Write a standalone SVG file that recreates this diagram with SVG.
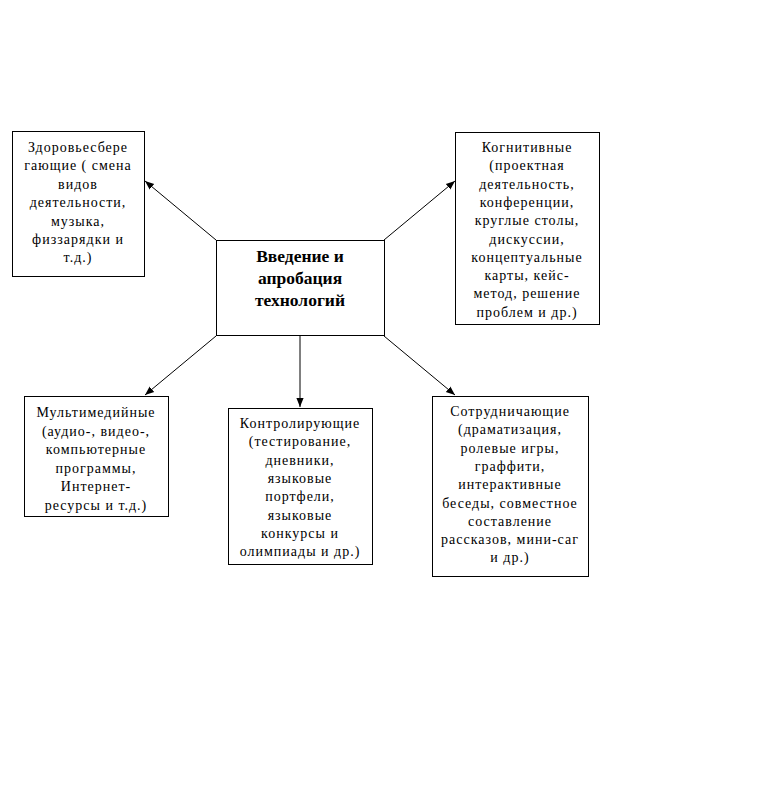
<svg xmlns="http://www.w3.org/2000/svg" width="769" height="805" viewBox="0 0 769 805">
<style>
.box{fill:#fff;stroke:#000;stroke-width:1}
.t{font-family:"Liberation Serif","Times New Roman",serif;font-size:14px;letter-spacing:1px;text-anchor:middle;fill:#000}
.b{font-family:"Liberation Serif","Times New Roman",serif;font-size:17.5px;font-weight:bold;text-anchor:middle;fill:#000}
.c{stroke:#000;stroke-width:1;fill:none;marker-end:url(#ah)}
</style>
<defs>
<marker id="ah" viewBox="0 0 10 10" refX="10" refY="5" markerWidth="9" markerHeight="9" markerUnits="userSpaceOnUse" orient="auto">
<path d="M0,1 L10,5 L0,9 z" fill="#000"/>
</marker>
</defs>
<rect width="769" height="805" fill="#fff"/>
<g id="connectors">
<line class="c" x1="216" y1="240" x2="145" y2="181"/>
<line class="c" x1="384" y1="240" x2="455" y2="181"/>
<line class="c" x1="216" y1="336" x2="145" y2="395"/>
<line class="c" x1="300" y1="336" x2="300" y2="407"/>
<line class="c" x1="384" y1="336" x2="455" y2="395"/>
</g>
<g id="center">
<rect class="box" x="216.5" y="240.5" width="168" height="95"/>
<text class="b" x="300" y="262">Введение и</text>
<text class="b" x="300" y="284">апробация</text>
<text class="b" x="300" y="306">технологий</text>
</g>
<g id="health">
<rect class="box" x="12.5" y="131.5" width="132" height="145"/>
<text class="t" x="78" y="152">Здоровьесбере</text>
<text class="t" x="78" y="170.4">гающие ( смена</text>
<text class="t" x="78" y="188.8">видов</text>
<text class="t" x="78" y="207.2">деятельности,</text>
<text class="t" x="78" y="225.6">музыка,</text>
<text class="t" x="78" y="244">физзарядки и</text>
<text class="t" x="78" y="262.4">т.д.)</text>
</g>
<g id="cognitive">
<rect class="box" x="455.5" y="132.5" width="144" height="192"/>
<text class="t" x="527" y="152">Когнитивные</text>
<text class="t" x="527" y="170.3">(проектная</text>
<text class="t" x="527" y="188.6">деятельность,</text>
<text class="t" x="527" y="206.9">конференции,</text>
<text class="t" x="527" y="225.2">круглые столы,</text>
<text class="t" x="527" y="243.5">дискуссии,</text>
<text class="t" x="527" y="261.8">концептуальные</text>
<text class="t" x="527" y="280.1">карты, кейс-</text>
<text class="t" x="527" y="298.4">метод, решение</text>
<text class="t" x="527" y="316.7">проблем и др.)</text>
</g>
<g id="multimedia">
<rect class="box" x="24.5" y="396.5" width="144" height="120"/>
<text class="t" x="96" y="417">Мультимедийные</text>
<text class="t" x="96" y="435.5">(аудио-, видео-,</text>
<text class="t" x="96" y="454">компьютерные</text>
<text class="t" x="96" y="472.5">программы,</text>
<text class="t" x="96" y="491">Интернет-</text>
<text class="t" x="96" y="509.5">ресурсы и т.д.)</text>
</g>
<g id="control">
<rect class="box" x="228.5" y="408.5" width="144" height="156"/>
<text class="t" x="300" y="428">Контролирующие</text>
<text class="t" x="300" y="446.3">(тестирование,</text>
<text class="t" x="300" y="464.6">дневники,</text>
<text class="t" x="300" y="482.9">языковые</text>
<text class="t" x="300" y="501.2">портфели,</text>
<text class="t" x="300" y="519.5">языковые</text>
<text class="t" x="300" y="537.8">конкурсы и</text>
<text class="t" x="300" y="556.1">олимпиады и др.)</text>
</g>
<g id="cooperative">
<rect class="box" x="432.5" y="396.5" width="156" height="180"/>
<text class="t" x="510" y="416">Сотрудничающие</text>
<text class="t" x="510" y="434.3">(драматизация,</text>
<text class="t" x="510" y="452.6">ролевые игры,</text>
<text class="t" x="510" y="470.9">граффити,</text>
<text class="t" x="510" y="489.2">интерактивные</text>
<text class="t" x="510" y="507.5">беседы, совместное</text>
<text class="t" x="510" y="525.8">составление</text>
<text class="t" x="510" y="544.1">рассказов, мини-саг</text>
<text class="t" x="510" y="562.4">и др.)</text>
</g>
</svg>
